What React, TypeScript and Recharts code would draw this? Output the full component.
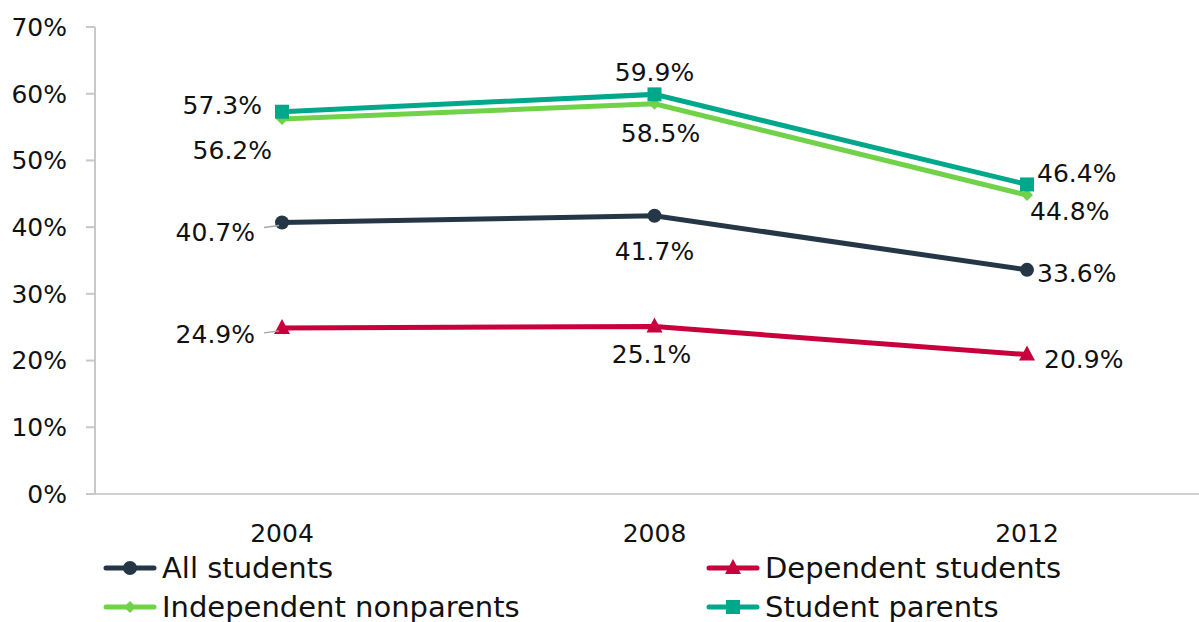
import { LineChart, Line, XAxis, YAxis, LabelList } from "recharts";

const years = ["2004", "2008", "2012"];
const allStudents = [40.7, 41.7, 33.6];
const dependentStudents = [24.9, 25.1, 20.9];
const independentNonparents = [56.2, 58.5, 44.8];
const studentParents = [57.3, 59.9, 46.4];
const yTicks = [0, 10, 20, 30, 40, 50, 60, 70];

const data = years.map((year, i) => ({
  year,
  all: allStudents[i],
  dependent: dependentStudents[i],
  independent: independentNonparents[i],
  parents: studentParents[i],
}));

type Shape = "circle" | "triangle" | "diamond" | "square";
type Place = { dx: number; dy: number; anchor: "start" | "middle" | "end"; leader?: boolean };

const series: Array<{
  key: string;
  name: string;
  color: string;
  shape: Shape;
  labels: Place[];
}> = [
  {
    key: "all",
    name: "All students",
    color: "#253746",
    shape: "circle",
    labels: [
      { dx: -27, dy: 10, anchor: "end", leader: true },
      { dx: 0, dy: 35, anchor: "middle" },
      { dx: 10, dy: 3, anchor: "start" },
    ],
  },
  {
    key: "dependent",
    name: "Dependent students",
    color: "#c8003c",
    shape: "triangle",
    labels: [
      { dx: -27, dy: 6, anchor: "end", leader: true },
      { dx: -3, dy: 27, anchor: "middle" },
      { dx: 17, dy: 4, anchor: "start" },
    ],
  },
  {
    key: "independent",
    name: "Independent nonparents",
    color: "#71d24a",
    shape: "diamond",
    labels: [
      { dx: -10, dy: 31, anchor: "end" },
      { dx: 6, dy: 29, anchor: "middle" },
      { dx: 3, dy: 16, anchor: "start" },
    ],
  },
  {
    key: "parents",
    name: "Student parents",
    color: "#00a88b",
    shape: "square",
    labels: [
      { dx: -20, dy: -7, anchor: "end" },
      { dx: 0, dy: -22, anchor: "middle" },
      { dx: 10, dy: -11, anchor: "start" },
    ],
  },
];

const FONT = "'DejaVu Sans', sans-serif";

function Marker({ shape, color, cx, cy }: { shape: Shape; color: string; cx: number; cy: number }) {
  if (shape === "circle") return <circle cx={cx} cy={cy} r={7} fill={color} />;
  if (shape === "square") return <rect x={cx - 7} y={cy - 7} width={14} height={14} fill={color} />;
  if (shape === "triangle")
    return <polygon points={`${cx},${cy - 9} ${cx + 8},${cy + 6} ${cx - 8},${cy + 6}`} fill={color} />;
  return <polygon points={`${cx},${cy - 6} ${cx + 6},${cy} ${cx},${cy + 6} ${cx - 6},${cy}`} fill={color} />;
}

function makeLabel(places: Place[]) {
  return (props: any) => {
    const { x, y, value, index } = props;
    const p = places[index];
    if (!p || x == null || y == null) return null;
    return (
      <g>
        {p.leader && (
          <line x1={x - 18} y1={y + 5} x2={x - 3} y2={y + 3} stroke="#a6a6a6" strokeWidth={1.5} />
        )}
        <text
          x={x + p.dx}
          y={y + p.dy}
          dy="0.36em"
          textAnchor={p.anchor}
          fontFamily={FONT}
          fontSize={25}
          fill="#111"
        >
          {`${value.toFixed(1)}%`}
        </text>
      </g>
    );
  };
}

function LegendIcon({ shape, color }: { shape: Shape; color: string }) {
  return (
    <svg width={54} height={20} style={{ marginRight: 5, flex: "none" }}>
      <line x1={3} y1={10} x2={51} y2={10} stroke={color} strokeWidth={5} strokeLinecap="round" />
      <Marker shape={shape} color={color} cx={27} cy={10} />
    </svg>
  );
}

export default function App() {
  return (
    <div
      style={{
        position: "absolute",
        top: 0,
        left: 0,
        width: 1199,
        height: 622,
        overflow: "hidden",
        background: "#fff",
      }}
    >
      <LineChart width={1214} height={560} data={data} margin={{ top: 27, right: 0, bottom: 0, left: 0 }}>
        <XAxis
          dataKey="year"
          height={66}
          padding={{ left: 187, right: 187 }}
          axisLine={{ stroke: "#d0d0d0", strokeWidth: 2 }}
          tickLine={false}
          tickSize={0}
          tickMargin={30}
          tick={{ fontFamily: FONT, fontSize: 25, fill: "#111" }}
        />
        <YAxis
          width={95}
          domain={[0, 70]}
          ticks={yTicks}
          interval={0}
          tickFormatter={(v) => `${v}%`}
          axisLine={{ stroke: "#c8c8c8", strokeWidth: 2 }}
          tickLine={{ stroke: "#c8c8c8", strokeWidth: 2 }}
          tickSize={9}
          tickMargin={19}
          tick={{ fontFamily: FONT, fontSize: 25, fill: "#111" }}
        />
        {series.map((s) => (
          <Line
            key={s.key}
            dataKey={s.key}
            name={s.name}
            stroke={s.color}
            strokeWidth={5}
            isAnimationActive={false}
            dot={(props: any) => (
              <Marker key={`${s.key}-${props.index}`} shape={s.shape} color={s.color} cx={props.cx} cy={props.cy} />
            )}
            activeDot={false}
          >
            <LabelList dataKey={s.key} content={makeLabel(s.labels)} />
          </Line>
        ))}
      </LineChart>
      <div
        style={{
          position: "absolute",
          left: 103,
          top: 548,
          display: "grid",
          gridTemplateColumns: "603px auto",
          fontFamily: FONT,
          fontSize: 29,
          color: "#111",
        }}
      >
        {series.map((s) => (
          <div key={s.key} style={{ display: "flex", alignItems: "center", height: 39, whiteSpace: "nowrap" }}>
            <LegendIcon shape={s.shape} color={s.color} />
            <span>{s.name}</span>
          </div>
        ))}
      </div>
    </div>
  );
}
